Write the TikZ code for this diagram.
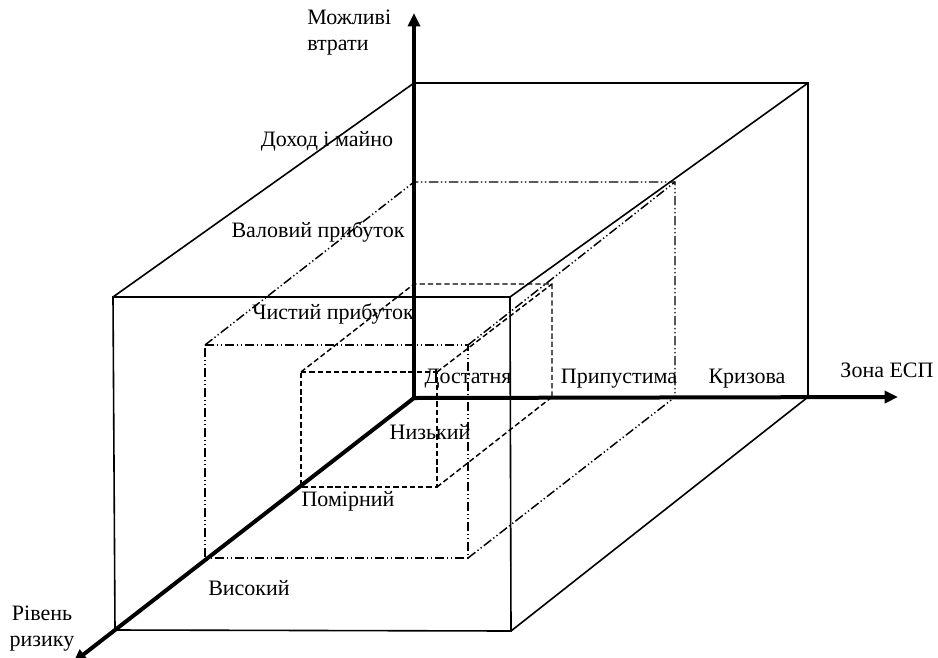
\documentclass[tikz,border=0pt]{standalone}
\usepackage{fontspec}
\setmainfont{Liberation Serif}
\usetikzlibrary{arrows.meta,calc}
\begin{document}
\begin{tikzpicture}[x=0.75pt,y=-0.75pt,
  thinline/.style={line width=1.2pt},
  axisline/.style={line width=3pt,-{Triangle[length=10pt,width=9pt]}},
  dashdotdot/.style={line width=1.1pt,dash pattern=on 7pt off 2pt on 1pt off 2pt on 1pt off 2pt},
  dashedline/.style={line width=1.1pt,dash pattern=on 4pt off 2.2pt},
  lbl/.style={font=\fontsize{16.5}{19.5}\selectfont, inner sep=0pt}]
\useasboundingbox (0,0) rectangle (938,657);
% origin
\coordinate (O) at (414,398);
% outer box
\coordinate (BTL) at (414,83);
\coordinate (BTR) at (808,83);
\coordinate (BBR) at (808,397);
\coordinate (FTL) at (113,297);
\coordinate (FTR) at (510,297);
\coordinate (FBR) at (511,631);
\coordinate (FBL) at (115,630);
% middle box
\coordinate (MBTL) at (414,182);
\coordinate (MBTR) at (675,182);
\coordinate (MBBR) at (675,397);
\coordinate (MFTL) at (205,345);
\coordinate (MFTR) at (468,345);
\coordinate (MFBR) at (468,558);
\coordinate (MFBL) at (205,558);
% inner box
\coordinate (IBTL) at (414,284);
\coordinate (IBTR) at (552,284);
\coordinate (IBBR) at (552,397);
\coordinate (IFTL) at (301,372);
\coordinate (IFTR) at (437,372);
\coordinate (IFBR) at (437,487);
\coordinate (IFBL) at (301,487);
% axis ends
\coordinate (Ytip) at (414,13);
\coordinate (Xtip) at (898,397);
\coordinate (Ztip) at ($(O)!1.14!(FBL)$);

% outer box (solid)
\draw[thinline] (FTL) -- (FTR) -- (FBR) -- (FBL) -- cycle;
\draw[thinline] (FTL) -- (BTL) -- (BTR) -- (BBR);
\draw[thinline] (FTR) -- (BTR);
\draw[thinline] (FBR) -- (BBR);

% middle box (dash-dot-dot)
\draw[dashdotdot] (MFTL) -- (MFTR) -- (MFBR) -- (MFBL) -- cycle;
\draw[dashdotdot] (MFTL) -- (MBTL) -- (MBTR) -- (MBBR);
\draw[dashdotdot] (MFTR) -- (MBTR);
\draw[dashdotdot] (MFBR) -- (MBBR);

% inner box (dashed)
\draw[dashedline] (IFTL) -- (IFTR) -- (IFBR) -- (IFBL) -- cycle;
\draw[dashedline] (IFTL) -- (IBTL) -- (IBTR) -- (IBBR);
\draw[dashedline] (IFTR) -- (IBTR);
\draw[dashedline] (IFBR) -- (IBBR);

% axes
\draw[axisline] (O) -- (Ytip);
\draw[axisline] (O) -- (Xtip);
\draw[axisline] (O) -- (Ztip);

% labels
\node[lbl, anchor=west, align=left] (ylab) at (307,33) {Можливі\\втрати};
\node[lbl] (l1) at (327,141) {Доход і майно};
\node[lbl] (l2) at (318,232) {Валовий прибуток};
\node[lbl] (l3) at (333,314) {Чистий прибуток};
\node[lbl] (z1) at (468,379) {Достатня};
\node[lbl] (z2) at (619,379) {Припустима};
\node[lbl] (z3) at (747,379) {Кризова};
\node[lbl] (xlab) at (887,370) {Зона ЕСП};
\node[lbl] (r1) at (430,432) {Низький};
\node[lbl] (r2) at (348,501) {Помірний};
\node[lbl] (r3) at (249,588) {Високий};
\node[lbl, align=center] (zlab) at (42,629) {Рівень\\ризику};
\end{tikzpicture}
\end{document}
